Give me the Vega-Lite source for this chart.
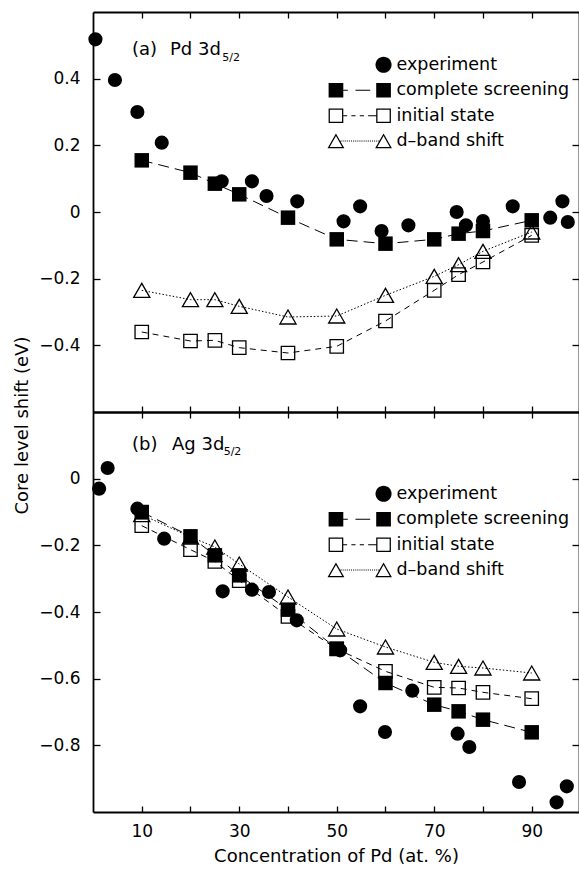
{
  "$schema": "https://vega.github.io/schema/vega-lite/v6.json",
  "background": "white",
  "padding": {"left": 12, "top": 11, "right": 0, "bottom": 0},
  "spacing": 0,
  "bounds": "flush",
  "datasets": {
    "pts": [
      {"p":"a","s":"experiment","x":0.5,"y":0.518},
      {"p":"a","s":"experiment","x":4.5,"y":0.396},
      {"p":"a","s":"experiment","x":9.1,"y":0.3},
      {"p":"a","s":"experiment","x":14.1,"y":0.208},
      {"p":"a","s":"experiment","x":26.4,"y":0.092},
      {"p":"a","s":"experiment","x":32.6,"y":0.092},
      {"p":"a","s":"experiment","x":35.6,"y":0.048},
      {"p":"a","s":"experiment","x":41.9,"y":0.032},
      {"p":"a","s":"experiment","x":51.4,"y":-0.028},
      {"p":"a","s":"experiment","x":54.8,"y":0.017},
      {"p":"a","s":"experiment","x":59.2,"y":-0.057},
      {"p":"a","s":"experiment","x":64.7,"y":-0.04},
      {"p":"a","s":"experiment","x":74.6,"y":0.0},
      {"p":"a","s":"experiment","x":76.5,"y":-0.04},
      {"p":"a","s":"experiment","x":80.0,"y":-0.027},
      {"p":"a","s":"experiment","x":86.1,"y":0.017},
      {"p":"a","s":"experiment","x":93.8,"y":-0.017},
      {"p":"a","s":"experiment","x":96.3,"y":0.032},
      {"p":"a","s":"experiment","x":97.4,"y":-0.03},
      {"p":"a","s":"complete screening","x":10,"y":0.155},
      {"p":"a","s":"complete screening","x":20,"y":0.118},
      {"p":"a","s":"complete screening","x":25,"y":0.085},
      {"p":"a","s":"complete screening","x":30,"y":0.053},
      {"p":"a","s":"complete screening","x":40,"y":-0.017},
      {"p":"a","s":"complete screening","x":50,"y":-0.082},
      {"p":"a","s":"complete screening","x":60,"y":-0.095},
      {"p":"a","s":"complete screening","x":70,"y":-0.082},
      {"p":"a","s":"complete screening","x":75,"y":-0.065},
      {"p":"a","s":"complete screening","x":80,"y":-0.057},
      {"p":"a","s":"complete screening","x":90,"y":-0.025},
      {"p":"a","s":"initial state","x":10,"y":-0.36},
      {"p":"a","s":"initial state","x":20,"y":-0.387},
      {"p":"a","s":"initial state","x":25,"y":-0.385},
      {"p":"a","s":"initial state","x":30,"y":-0.407},
      {"p":"a","s":"initial state","x":40,"y":-0.423},
      {"p":"a","s":"initial state","x":50,"y":-0.403},
      {"p":"a","s":"initial state","x":60,"y":-0.327},
      {"p":"a","s":"initial state","x":70,"y":-0.235},
      {"p":"a","s":"initial state","x":75,"y":-0.188},
      {"p":"a","s":"initial state","x":80,"y":-0.15},
      {"p":"a","s":"initial state","x":90,"y":-0.07},
      {"p":"a","s":"d–band shift","x":10,"y":-0.235},
      {"p":"a","s":"d–band shift","x":20,"y":-0.263},
      {"p":"a","s":"d–band shift","x":25,"y":-0.263},
      {"p":"a","s":"d–band shift","x":30,"y":-0.283},
      {"p":"a","s":"d–band shift","x":40,"y":-0.315},
      {"p":"a","s":"d–band shift","x":50,"y":-0.312},
      {"p":"a","s":"d–band shift","x":60,"y":-0.25},
      {"p":"a","s":"d–band shift","x":70,"y":-0.193},
      {"p":"a","s":"d–band shift","x":75,"y":-0.158},
      {"p":"a","s":"d–band shift","x":80,"y":-0.118},
      {"p":"a","s":"d–band shift","x":90,"y":-0.06},
      {"p":"b","s":"experiment","x":1.25,"y":-0.03},
      {"p":"b","s":"experiment","x":3.0,"y":0.032},
      {"p":"b","s":"experiment","x":9.1,"y":-0.09},
      {"p":"b","s":"experiment","x":14.6,"y":-0.18},
      {"p":"b","s":"experiment","x":26.6,"y":-0.338},
      {"p":"b","s":"experiment","x":32.6,"y":-0.333},
      {"p":"b","s":"experiment","x":36.1,"y":-0.34},
      {"p":"b","s":"experiment","x":41.8,"y":-0.425},
      {"p":"b","s":"experiment","x":50.7,"y":-0.515},
      {"p":"b","s":"experiment","x":54.8,"y":-0.683},
      {"p":"b","s":"experiment","x":59.9,"y":-0.76},
      {"p":"b","s":"experiment","x":65.5,"y":-0.636},
      {"p":"b","s":"experiment","x":74.8,"y":-0.765},
      {"p":"b","s":"experiment","x":77.2,"y":-0.805},
      {"p":"b","s":"experiment","x":87.4,"y":-0.91},
      {"p":"b","s":"experiment","x":95.1,"y":-0.971},
      {"p":"b","s":"experiment","x":97.2,"y":-0.923},
      {"p":"b","s":"complete screening","x":10,"y":-0.1},
      {"p":"b","s":"complete screening","x":20,"y":-0.173},
      {"p":"b","s":"complete screening","x":25,"y":-0.23},
      {"p":"b","s":"complete screening","x":30,"y":-0.29},
      {"p":"b","s":"complete screening","x":40,"y":-0.393},
      {"p":"b","s":"complete screening","x":50,"y":-0.51},
      {"p":"b","s":"complete screening","x":60,"y":-0.613},
      {"p":"b","s":"complete screening","x":70,"y":-0.678},
      {"p":"b","s":"complete screening","x":75,"y":-0.698},
      {"p":"b","s":"complete screening","x":80,"y":-0.723},
      {"p":"b","s":"complete screening","x":90,"y":-0.761},
      {"p":"b","s":"initial state","x":10,"y":-0.141},
      {"p":"b","s":"initial state","x":20,"y":-0.213},
      {"p":"b","s":"initial state","x":25,"y":-0.248},
      {"p":"b","s":"initial state","x":30,"y":-0.306},
      {"p":"b","s":"initial state","x":40,"y":-0.413},
      {"p":"b","s":"initial state","x":50,"y":-0.511},
      {"p":"b","s":"initial state","x":60,"y":-0.578},
      {"p":"b","s":"initial state","x":70,"y":-0.626},
      {"p":"b","s":"initial state","x":75,"y":-0.628},
      {"p":"b","s":"initial state","x":80,"y":-0.641},
      {"p":"b","s":"initial state","x":90,"y":-0.66},
      {"p":"b","s":"d–band shift","x":10,"y":-0.108},
      {"p":"b","s":"d–band shift","x":20,"y":-0.175},
      {"p":"b","s":"d–band shift","x":25,"y":-0.205},
      {"p":"b","s":"d–band shift","x":30,"y":-0.256},
      {"p":"b","s":"d–band shift","x":40,"y":-0.355},
      {"p":"b","s":"d–band shift","x":50,"y":-0.451},
      {"p":"b","s":"d–band shift","x":60,"y":-0.505},
      {"p":"b","s":"d–band shift","x":70,"y":-0.551},
      {"p":"b","s":"d–band shift","x":75,"y":-0.563},
      {"p":"b","s":"d–band shift","x":80,"y":-0.568},
      {"p":"b","s":"d–band shift","x":90,"y":-0.583}
    ],
    "lab": [
      {"p":"a","t":"(a)","x":8.0,"y":0.472},
      {"p":"a","t":"Pd 3d","x":15.8,"y":0.472},
      {"p":"b","t":"(b)","x":8.0,"y":0.087},
      {"p":"b","t":"Ag 3d","x":16.2,"y":0.087}
    ],
    "sub": [
      {"p":"a","t":"5/2","x":26.5,"y":0.453},
      {"p":"b","t":"5/2","x":26.8,"y":0.07}
    ]
  },
  "resolve": {"scale": {"shape": "independent"}, "legend": {"shape": "independent"}},
  "vconcat": [
    {
      "width": 486, "height": 400,
      "layer": [
        {"mark": {"type":"rule","color":"black","strokeWidth":1.2,"strokeDash":[1.5,1.5]},
         "encoding": {"y": {"datum": 0, "type":"quantitative","scale":{"domain":[-0.6,0.6],"nice":false,"zero":false},"axis":null}}},
        {"data":{"name":"pts"},"transform":[{"filter":"datum.p=='a' && datum.s=='experiment'"}],
         "mark":{"type":"point","shape":"circle","filled":true,"color":"black","opacity":1,"size":200},
         "encoding":{
           "x":{"field":"x","type":"quantitative","scale":{"domain":[0,99.7],"nice":false,"zero":false},
                "axis":{"orient":"bottom","values":[10,20,30,40,50,60,70,80,90],"tickSize":-6,"labels":false,"title":null}},
           "y":{"field":"y","type":"quantitative","scale":{"domain":[-0.6,0.6],"nice":false,"zero":false},
                "axis":{"orient":"left","values":[-0.4,-0.2,0,0.2,0.4],"tickSize":-7,"labelPadding":20,"labelExpr":"datum.value == 0 ? '0' : format(datum.value, '.1f')","title":null}}}},
        {"data":{"name":"pts"},"transform":[{"filter":"datum.p=='a' && datum.s=='complete screening'"}],
         "mark":{"type":"line","color":"black","strokeWidth":1,"strokeDash":[11,6]},
         "encoding":{"x":{"field":"x","type":"quantitative","axis":null},"y":{"field":"y","type":"quantitative","axis":null}}},
        {"data":{"name":"pts"},"transform":[{"filter":"datum.p=='a' && datum.s=='complete screening'"}],
         "mark":{"type":"point","shape":"square","filled":true,"color":"black","opacity":1,"size":210},
         "encoding":{"x":{"field":"x","type":"quantitative","axis":null},"y":{"field":"y","type":"quantitative","axis":null}}},
        {"data":{"name":"pts"},"transform":[{"filter":"datum.p=='a' && datum.s=='initial state'"}],
         "mark":{"type":"line","color":"black","strokeWidth":1,"strokeDash":[6,5]},
         "encoding":{"x":{"field":"x","type":"quantitative","axis":null},"y":{"field":"y","type":"quantitative","axis":null}}},
        {"data":{"name":"pts"},"transform":[{"filter":"datum.p=='a' && datum.s=='initial state'"}],
         "mark":{"type":"point","shape":"square","filled":false,"color":"black","opacity":1,"strokeWidth":1.3,"size":180},
         "encoding":{"x":{"field":"x","type":"quantitative","axis":null},"y":{"field":"y","type":"quantitative","axis":null}}},
        {"data":{"name":"pts"},"transform":[{"filter":"datum.p=='a' && datum.s=='d–band shift'"}],
         "mark":{"type":"line","color":"black","strokeWidth":1,"strokeDash":[1.5,2]},
         "encoding":{"x":{"field":"x","type":"quantitative","axis":null},"y":{"field":"y","type":"quantitative","axis":null}}},
        {"data":{"name":"pts"},"transform":[{"filter":"datum.p=='a' && datum.s=='d–band shift'"}],
         "mark":{"type":"point","shape":"triangle-up","filled":false,"color":"black","opacity":1,"strokeWidth":1.3,"size":260},
         "encoding":{
           "x":{"field":"x","type":"quantitative","axis":{"orient":"top","values":[10,20,30,40,50,60,70,80,90],"tickSize":-6,"labels":false,"title":null}},
           "y":{"field":"y","type":"quantitative","axis":{"orient":"right","values":[-0.4,-0.2,0,0.2,0.4],"tickSize":-7,"labels":false,"title":null}}}},
        {"data":{"name":"lab"},"transform":[{"filter":"datum.p=='a'"}],
         "mark":{"type":"text","align":"left","baseline":"alphabetic","font":"DejaVu Sans","fontSize":18,"color":"black"},
         "encoding":{"x":{"field":"x","type":"quantitative","axis":null},"y":{"field":"y","type":"quantitative","axis":null},"text":{"field":"t"}}},
        {"data":{"name":"sub"},"transform":[{"filter":"datum.p=='a'"}],
         "mark":{"type":"text","align":"left","baseline":"alphabetic","font":"DejaVu Sans","fontSize":11,"color":"black"},
         "encoding":{"x":{"field":"x","type":"quantitative","axis":null},"y":{"field":"y","type":"quantitative","axis":null},"text":{"field":"t"}}},
        {"data":{"name":"pts"},"transform":[{"filter":"false"}],
         "mark":{"type":"point","filled":true,"color":"black","opacity":1},
         "encoding":{"shape":{"field":"s","type":"nominal",
           "scale":{"domain":["experiment","complete screening","initial state","d–band shift"],
             "range":[
               "M2.25,0A1.15,1.15,0,1,1,4.55,0A1.15,1.15,0,1,1,2.25,0Z",
               "M-4.45,-1.05H-2.35V1.05H-4.45Z M2.35,-1.05H4.45V1.05H2.35Z M-2.35,-0.07H-1.71V0.07H-2.35Z M-0.61,-0.07H1.49V0.07H-0.61Z",
               "M-4.45,-1.05H-2.35V1.05H-4.45Z M-4.27,-0.87V0.87H-2.53V-0.87Z M2.35,-1.05H4.45V1.05H2.35Z M2.53,-0.87V0.87H4.27V-0.87Z M-2.35,-0.07H-1.8V0.07H-2.35Z M-1.2,-0.07H-0.6V0.07H-1.2Z M0,-0.07H0.6V0.07H0Z M1.2,-0.07H2.35V0.07H1.2Z",
               "M-3.4,-1.1L-2.2,1L-4.6,1Z M-3.4,-0.736L-4.289,0.82L-2.511,0.82Z M3.4,-1.1L4.6,1L2.2,1Z M3.4,-0.736L2.511,0.82L4.289,0.82Z M-2.75,-0.12h0.15v0.15h-0.15Z M-2.45,-0.12h0.15v0.15h-0.15Z M-2.15,-0.12h0.15v0.15h-0.15Z M-1.85,-0.12h0.15v0.15h-0.15Z M-1.55,-0.12h0.15v0.15h-0.15Z M-1.25,-0.12h0.15v0.15h-0.15Z M-0.95,-0.12h0.15v0.15h-0.15Z M-0.65,-0.12h0.15v0.15h-0.15Z M-0.35,-0.12h0.15v0.15h-0.15Z M-0.05,-0.12h0.15v0.15h-0.15Z M0.25,-0.12h0.15v0.15h-0.15Z M0.55,-0.12h0.15v0.15h-0.15Z M0.85,-0.12h0.15v0.15h-0.15Z M1.15,-0.12h0.15v0.15h-0.15Z M1.45,-0.12h0.15v0.15h-0.15Z M1.75,-0.12h0.15v0.15h-0.15Z M2.05,-0.12h0.15v0.15h-0.15Z M2.35,-0.12h0.15v0.15h-0.15Z M2.65,-0.12h0.15v0.15h-0.15Z"
             ]},
           "legend":{"orient":"none","legendX":262,"legendY":44,"title":null,"padding":0,"symbolSize":196,"symbolStrokeWidth":0,"symbolOffset":-4,"labelOffset":28,"labelLimit":400,"labelFont":"DejaVu Sans","labelFontSize":17.5,"labelColor":"black","rowPadding":6.5}}}}
      ]
    },
    {
      "width": 486, "height": 400,
      "layer": [
        {"mark": {"type":"rule","color":"black","strokeWidth":1.2,"strokeDash":[1.5,1.5]},
         "encoding": {"y": {"datum": 0, "type":"quantitative","scale":{"domain":[-1.0,0.2],"nice":false,"zero":false},"axis":null}}},
        {"data":{"name":"pts"},"transform":[{"filter":"datum.p=='b' && datum.s=='experiment'"}],
         "mark":{"type":"point","shape":"circle","filled":true,"color":"black","opacity":1,"size":200},
         "encoding":{
           "x":{"field":"x","type":"quantitative","scale":{"domain":[0,99.7],"nice":false,"zero":false},
                "axis":{"orient":"bottom","values":[10,20,30,40,50,60,70,80,90],"tickSize":-6,"labelPadding":17,"labelExpr":"datum.value % 20 == 10 ? datum.label : ''","title":"Concentration of Pd (at. %)","titleFontSize":18,"titlePadding":8}},
           "y":{"field":"y","type":"quantitative","scale":{"domain":[-1.0,0.2],"nice":false,"zero":false},
                "axis":{"orient":"left","values":[-0.8,-0.6,-0.4,-0.2,0],"tickSize":-7,"labelPadding":20,"labelExpr":"datum.value == 0 ? '0' : format(datum.value, '.1f')","title":"Core level shift (eV)","titleFontSize":18,"titleX":-66,"titleY":13,"titleAngle":270,"titleAlign":"center","titleBaseline":"alphabetic"}}}},
        {"data":{"name":"pts"},"transform":[{"filter":"datum.p=='b' && datum.s=='complete screening'"}],
         "mark":{"type":"line","color":"black","strokeWidth":1,"strokeDash":[11,6]},
         "encoding":{"x":{"field":"x","type":"quantitative","axis":null},"y":{"field":"y","type":"quantitative","axis":null}}},
        {"data":{"name":"pts"},"transform":[{"filter":"datum.p=='b' && datum.s=='complete screening'"}],
         "mark":{"type":"point","shape":"square","filled":true,"color":"black","opacity":1,"size":210},
         "encoding":{"x":{"field":"x","type":"quantitative","axis":null},"y":{"field":"y","type":"quantitative","axis":null}}},
        {"data":{"name":"pts"},"transform":[{"filter":"datum.p=='b' && datum.s=='initial state'"}],
         "mark":{"type":"line","color":"black","strokeWidth":1,"strokeDash":[6,5]},
         "encoding":{"x":{"field":"x","type":"quantitative","axis":null},"y":{"field":"y","type":"quantitative","axis":null}}},
        {"data":{"name":"pts"},"transform":[{"filter":"datum.p=='b' && datum.s=='initial state'"}],
         "mark":{"type":"point","shape":"square","filled":false,"color":"black","opacity":1,"strokeWidth":1.3,"size":180},
         "encoding":{"x":{"field":"x","type":"quantitative","axis":null},"y":{"field":"y","type":"quantitative","axis":null}}},
        {"data":{"name":"pts"},"transform":[{"filter":"datum.p=='b' && datum.s=='d–band shift'"}],
         "mark":{"type":"line","color":"black","strokeWidth":1,"strokeDash":[1.5,2]},
         "encoding":{"x":{"field":"x","type":"quantitative","axis":null},"y":{"field":"y","type":"quantitative","axis":null}}},
        {"data":{"name":"pts"},"transform":[{"filter":"datum.p=='b' && datum.s=='d–band shift'"}],
         "mark":{"type":"point","shape":"triangle-up","filled":false,"color":"black","opacity":1,"strokeWidth":1.3,"size":260},
         "encoding":{
           "x":{"field":"x","type":"quantitative","axis":{"orient":"top","values":[10,20,30,40,50,60,70,80,90],"tickSize":-6,"labels":false,"title":null}},
           "y":{"field":"y","type":"quantitative","axis":{"orient":"right","values":[-0.8,-0.6,-0.4,-0.2,0],"tickSize":-7,"labels":false,"title":null}}}},
        {"data":{"name":"lab"},"transform":[{"filter":"datum.p=='b'"}],
         "mark":{"type":"text","align":"left","baseline":"alphabetic","font":"DejaVu Sans","fontSize":18,"color":"black"},
         "encoding":{"x":{"field":"x","type":"quantitative","axis":null},"y":{"field":"y","type":"quantitative","axis":null},"text":{"field":"t"}}},
        {"data":{"name":"sub"},"transform":[{"filter":"datum.p=='b'"}],
         "mark":{"type":"text","align":"left","baseline":"alphabetic","font":"DejaVu Sans","fontSize":11,"color":"black"},
         "encoding":{"x":{"field":"x","type":"quantitative","axis":null},"y":{"field":"y","type":"quantitative","axis":null},"text":{"field":"t"}}},
        {"data":{"name":"pts"},"transform":[{"filter":"false"}],
         "mark":{"type":"point","filled":true,"color":"black","opacity":1},
         "encoding":{"shape":{"field":"s","type":"nominal",
           "scale":{"domain":["experiment","complete screening","initial state","d–band shift"],
             "range":[
               "M2.25,0A1.15,1.15,0,1,1,4.55,0A1.15,1.15,0,1,1,2.25,0Z",
               "M-4.45,-1.05H-2.35V1.05H-4.45Z M2.35,-1.05H4.45V1.05H2.35Z M-2.35,-0.07H-1.71V0.07H-2.35Z M-0.61,-0.07H1.49V0.07H-0.61Z",
               "M-4.45,-1.05H-2.35V1.05H-4.45Z M-4.27,-0.87V0.87H-2.53V-0.87Z M2.35,-1.05H4.45V1.05H2.35Z M2.53,-0.87V0.87H4.27V-0.87Z M-2.35,-0.07H-1.8V0.07H-2.35Z M-1.2,-0.07H-0.6V0.07H-1.2Z M0,-0.07H0.6V0.07H0Z M1.2,-0.07H2.35V0.07H1.2Z",
               "M-3.4,-1.1L-2.2,1L-4.6,1Z M-3.4,-0.736L-4.289,0.82L-2.511,0.82Z M3.4,-1.1L4.6,1L2.2,1Z M3.4,-0.736L2.511,0.82L4.289,0.82Z M-2.75,-0.12h0.15v0.15h-0.15Z M-2.45,-0.12h0.15v0.15h-0.15Z M-2.15,-0.12h0.15v0.15h-0.15Z M-1.85,-0.12h0.15v0.15h-0.15Z M-1.55,-0.12h0.15v0.15h-0.15Z M-1.25,-0.12h0.15v0.15h-0.15Z M-0.95,-0.12h0.15v0.15h-0.15Z M-0.65,-0.12h0.15v0.15h-0.15Z M-0.35,-0.12h0.15v0.15h-0.15Z M-0.05,-0.12h0.15v0.15h-0.15Z M0.25,-0.12h0.15v0.15h-0.15Z M0.55,-0.12h0.15v0.15h-0.15Z M0.85,-0.12h0.15v0.15h-0.15Z M1.15,-0.12h0.15v0.15h-0.15Z M1.45,-0.12h0.15v0.15h-0.15Z M1.75,-0.12h0.15v0.15h-0.15Z M2.05,-0.12h0.15v0.15h-0.15Z M2.35,-0.12h0.15v0.15h-0.15Z M2.65,-0.12h0.15v0.15h-0.15Z"
             ]},
           "legend":{"orient":"none","legendX":262,"legendY":73,"title":null,"padding":0,"symbolSize":196,"symbolStrokeWidth":0,"symbolOffset":-4,"labelOffset":28,"labelLimit":400,"labelFont":"DejaVu Sans","labelFontSize":17.5,"labelColor":"black","rowPadding":6.5}}}}
      ]
    }
  ],
  "config": {
    "view": {"stroke": null},
    "axis": {"domainColor":"black","domainWidth":1.8,"tickColor":"black","tickWidth":1.3,"grid":false,
             "labelFont":"DejaVu Sans","labelFontSize":17,"labelColor":"black","labelFlush":false,"labelOverlap":false,
             "titleFont":"DejaVu Sans","titleFontSize":17,"titleFontWeight":"normal","titleColor":"black"}
  }
}
